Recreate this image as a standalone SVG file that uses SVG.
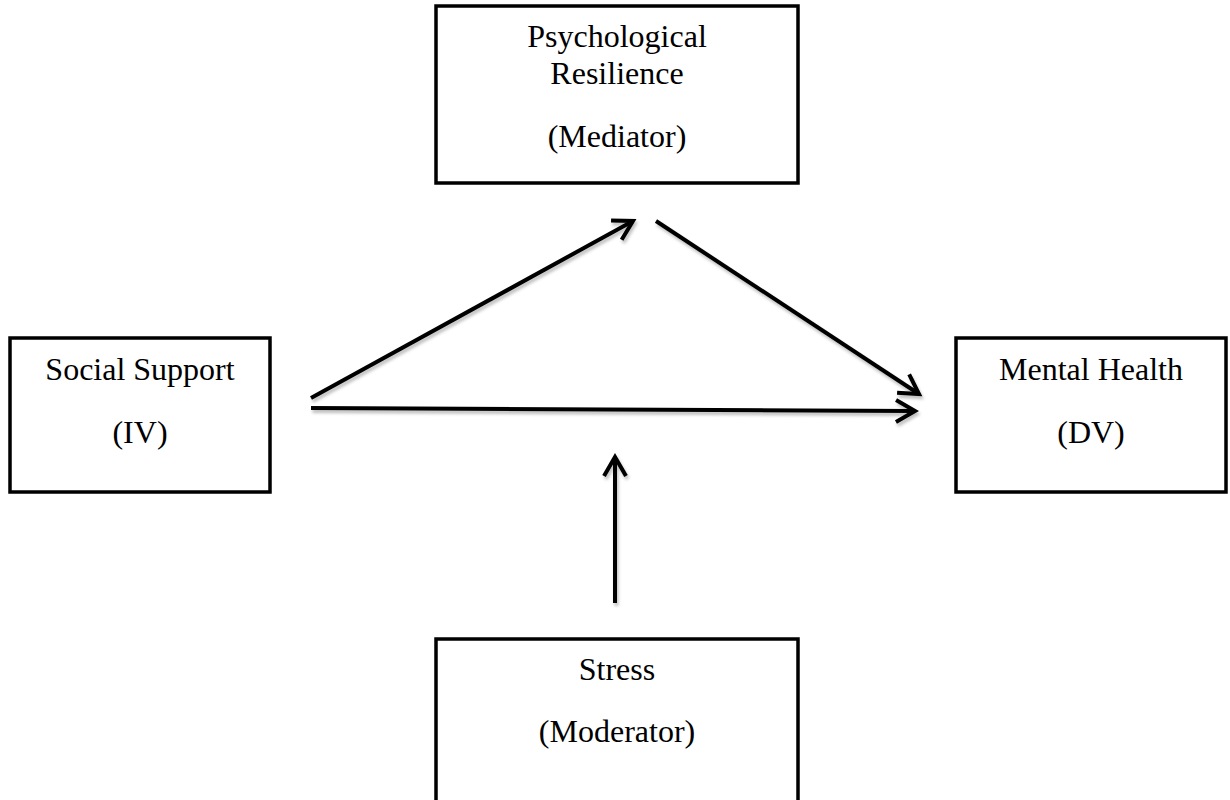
<svg xmlns="http://www.w3.org/2000/svg" width="1230" height="800" viewBox="0 0 1230 800">
<style>
.box{fill:#fff;stroke:#000;stroke-width:3.5}
.t{font-family:"Liberation Serif","Times New Roman",serif;font-size:32px;fill:#000;text-anchor:middle}
.arr{fill:none;stroke:#000;stroke-width:4;marker-end:url(#ah)}
</style>
<defs>
<filter id="sh" filterUnits="userSpaceOnUse" x="0" y="0" width="1230" height="800">
<feDropShadow dx="1.5" dy="3" stdDeviation="1.5" flood-color="#000" flood-opacity="0.25"/>
</filter>
<marker id="ah" markerUnits="userSpaceOnUse" viewBox="-30 -20 40 40" refX="0" refY="0" markerWidth="40" markerHeight="40" orient="auto" overflow="visible">
<path d="M -19 -11 L 0 0 L -19 11" fill="none" stroke="#000" stroke-width="4" stroke-linejoin="miter"/>
</marker>
</defs>
<rect width="1230" height="800" fill="#fff"/>
<g id="connectors" filter="url(#sh)">
<line class="arr" x1="311" y1="398" x2="633" y2="221"/>
<line class="arr" x1="656" y1="221" x2="919" y2="394"/>
<line class="arr" x1="311" y1="408" x2="915" y2="411"/>
<line class="arr" x1="615" y1="603" x2="615" y2="457"/>
</g>
<g id="mediator">
<rect class="box" x="436" y="6" width="362" height="177"/>
<text class="t" x="617" y="47">Psychological</text>
<text class="t" x="617" y="84">Resilience</text>
<text class="t" x="617" y="147">(Mediator)</text>
</g>
<g id="iv">
<rect class="box" x="10" y="338" width="260" height="154"/>
<text class="t" x="140" y="380">Social Support</text>
<text class="t" x="140" y="443">(IV)</text>
</g>
<g id="dv">
<rect class="box" x="956" y="338" width="270" height="154"/>
<text class="t" x="1091" y="380">Mental Health</text>
<text class="t" x="1091" y="443">(DV)</text>
</g>
<g id="moderator">
<rect class="box" x="436" y="639" width="362" height="180"/>
<text class="t" x="617" y="680">Stress</text>
<text class="t" x="617" y="742">(Moderator)</text>
</g>
</svg>
